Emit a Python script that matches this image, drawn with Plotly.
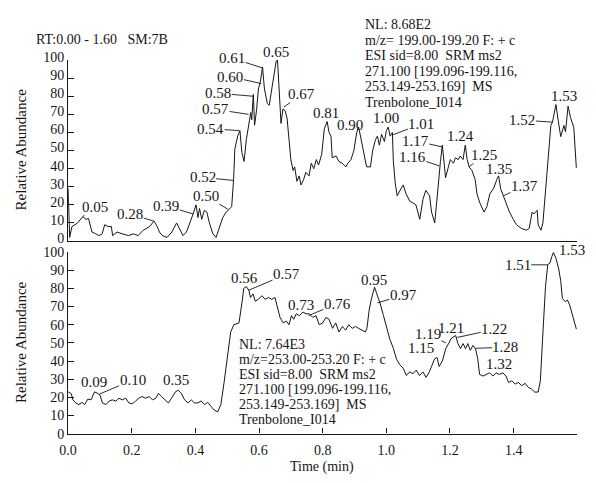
import numpy as np
import plotly.graph_objects as go

# ---------------- data ----------------
top_time = [0.000, 0.005, 0.012, 0.020, 0.030, 0.046, 0.056, 0.064, 0.075, 0.087, 0.097, 0.107, 0.115,
            0.126, 0.136, 0.140, 0.154, 0.170, 0.190, 0.205, 0.220, 0.236, 0.246, 0.256, 0.270, 0.280,
            0.287, 0.296, 0.311, 0.326, 0.341, 0.350, 0.361, 0.372, 0.383, 0.393, 0.402, 0.408, 0.413,
            0.420, 0.428, 0.436, 0.444, 0.455, 0.465, 0.476, 0.486, 0.497, 0.507, 0.514, 0.520, 0.524,
            0.533, 0.540, 0.546, 0.553, 0.560, 0.567, 0.574, 0.577, 0.582, 0.586, 0.592, 0.598, 0.604,
            0.611, 0.617, 0.626, 0.632, 0.640, 0.647, 0.654, 0.658, 0.664, 0.669, 0.675, 0.682, 0.688,
            0.694, 0.700, 0.707, 0.712, 0.719, 0.726, 0.732, 0.740, 0.747, 0.757, 0.764, 0.772, 0.780,
            0.787, 0.797, 0.805, 0.814, 0.820, 0.826, 0.830, 0.842, 0.851, 0.861, 0.873, 0.879, 0.889,
            0.898, 0.907, 0.913, 0.920, 0.929, 0.938, 0.950, 0.957, 0.966, 0.972, 0.978, 0.985, 0.994,
            1.000, 1.006, 1.012, 1.019, 1.022, 1.028, 1.034, 1.043, 1.053, 1.062, 1.074, 1.084, 1.093,
            1.105, 1.115, 1.124, 1.136, 1.142, 1.152, 1.158, 1.167, 1.170, 1.176, 1.182, 1.186, 1.195,
            1.201, 1.211, 1.217, 1.226, 1.232, 1.241, 1.248, 1.254, 1.260, 1.269, 1.279, 1.285, 1.294,
            1.307, 1.316, 1.325, 1.337, 1.347, 1.353, 1.359, 1.368, 1.378, 1.387, 1.399, 1.409, 1.424,
            1.440, 1.449, 1.458, 1.464, 1.474, 1.477, 1.486, 1.492, 1.502, 1.508, 1.517, 1.522, 1.533,
            1.540, 1.548, 1.558, 1.563, 1.571, 1.579, 1.589, 1.597]
top_abund = [29, 2, 8, 9, 10, 13.5, 12, 12.5, 5, 4, 3, 4, 9,
             8, 8, 3, 5, 4, 3, 4, 3, 6, 7, 8, 11, 8,
             5, 3, 2, 5, 10, 7, 3, 5, 10, 15, 20, 13, 18,
             12, 17, 16, 10, 4, 2, 8, 13, 16, 18, 19, 34, 51,
             58, 61, 49, 44, 56, 65, 71, 67, 81, 64, 72, 84, 88,
             96, 84, 76, 75, 84, 93, 99.5, 100, 79, 65, 73, 72, 68,
             57, 45, 39, 41, 33, 36, 31, 34, 38, 36, 43, 40, 45,
             42, 48, 62, 66, 60, 58, 46, 47, 44, 43, 41, 43, 45,
             50, 60, 63, 57, 50, 41, 41, 50, 56, 58, 53, 59, 55,
             61, 63, 58, 60, 44, 32, 25, 28, 31, 26, 22, 21, 20,
             12, 23, 28, 25, 16, 10, 21, 41, 44, 53, 43, 35, 41,
             45, 43, 46, 45, 47, 45, 53, 45, 41, 39, 34, 26, 21,
             16, 19, 26, 29, 34, 36, 29, 25, 21, 16, 12, 9, 7,
             6, 7, 16, 15, 17, 9, 6, 10, 32, 48, 64, 65.7, 75.4,
             66.6, 57.7, 63.9, 60.3, 74.5, 68.1, 62.8, 40.5]

bot_time = [0.000, 0.010, 0.015, 0.024, 0.034, 0.044, 0.052, 0.062, 0.072, 0.083, 0.093, 0.100, 0.108,
            0.119, 0.129, 0.139, 0.150, 0.160, 0.170, 0.181, 0.191, 0.201, 0.212, 0.222, 0.232, 0.243,
            0.255, 0.265, 0.276, 0.284, 0.294, 0.305, 0.315, 0.325, 0.337, 0.346, 0.356, 0.366, 0.377,
            0.387, 0.397, 0.408, 0.418, 0.428, 0.439, 0.449, 0.459, 0.470, 0.480, 0.490, 0.501, 0.511,
            0.521, 0.537, 0.547, 0.552, 0.560, 0.568, 0.573, 0.581, 0.588, 0.598, 0.609, 0.619, 0.629,
            0.640, 0.650, 0.657, 0.666, 0.676, 0.686, 0.694, 0.702, 0.709, 0.717, 0.727, 0.738, 0.748,
            0.758, 0.769, 0.779, 0.789, 0.800, 0.810, 0.820, 0.831, 0.841, 0.851, 0.862, 0.872, 0.882,
            0.893, 0.903, 0.913, 0.924, 0.934, 0.939, 0.946, 0.954, 0.963, 0.970, 0.980, 0.991, 1.001,
            1.011, 1.022, 1.032, 1.042, 1.053, 1.063, 1.073, 1.084, 1.094, 1.104, 1.115, 1.125, 1.135,
            1.142, 1.151, 1.159, 1.166, 1.176, 1.187, 1.197, 1.203, 1.210, 1.218, 1.225, 1.233, 1.241,
            1.249, 1.256, 1.264, 1.272, 1.280, 1.287, 1.293, 1.304, 1.314, 1.324, 1.335, 1.345, 1.355,
            1.366, 1.376, 1.384, 1.394, 1.405, 1.415, 1.425, 1.436, 1.446, 1.456, 1.466, 1.477, 1.484,
            1.491, 1.500, 1.507, 1.514, 1.520, 1.525, 1.533, 1.541, 1.548, 1.553, 1.562, 1.569, 1.576,
            1.584, 1.593, 1.597]
bot_abund = [23, 22, 18.6, 16.9, 16, 17.2, 16, 19, 18.6, 23, 22.2, 21.3, 16.9,
             16, 17.9, 18.6, 17.9, 19.5, 18.6, 19.5, 16.9, 16.4, 17.9, 19.5, 20.4, 19.5,
             20.4, 18.6, 19.5, 22.2, 20.4, 18.6, 16.9, 19.5, 23, 23.9, 22.2, 18.6, 16.9,
             18.6, 16.9, 16.9, 18, 16, 17.2, 15, 13, 12, 16, 28, 44, 56,
             60, 61, 73, 80, 81, 79, 75, 77, 73, 74, 76, 74, 75,
             74, 75, 70, 64, 61, 62, 60, 65, 63, 66, 65, 67, 66,
             66, 64, 65, 60, 61, 64, 63, 58, 61, 56, 59, 57, 60,
             58, 59, 58, 57, 56, 58, 68, 75, 80.7, 77, 72, 65, 58,
             52, 47, 41, 38, 36, 32, 34, 33, 35, 32, 34, 31, 34,
             37, 41, 42, 37, 40, 47, 50, 52.3, 53.2, 54, 49.6, 46.8, 49.6,
             46.8, 49.6, 45.9, 48.6, 46.8, 41.5, 32.6, 31.7, 32.6, 33.5, 31.7, 33.5, 32.6,
             33.5, 31.7, 28.2, 29.1, 27.3, 28.2, 26.4, 27.7, 25.5, 24.6, 22.9, 22.9, 29.1,
             52.3, 80.7, 93.1, 94, 97.5, 99.8, 96.6, 91.3, 84.2, 74.5, 72.7, 73.6, 70.9,
             65.6, 59.4, 57.6]

# peak labels: retention time text, and the point of the trace the label refers to
top_lbl_text = ["0.05", "0.28", "0.39", "0.50", "0.52", "0.54", "0.57", "0.58", "0.60", "0.61",
                "0.65", "0.67", "0.81", "0.90", "1.00", "1.01", "1.17", "1.16", "1.24", "1.25",
                "1.35", "1.37", "1.52", "1.53"]
top_lbl_t = [0.046, 0.270, 0.393, 0.502, 0.520, 0.539, 0.567, 0.582, 0.607, 0.613,
             0.658, 0.678, 0.814, 0.907, 1.006, 1.019, 1.176, 1.167, 1.248, 1.260,
             1.353, 1.368, 1.522, 1.533]
top_lbl_v = [13.5, 11, 15, 17.6, 33.5, 61, 70, 80, 87, 95.5,
             100, 74, 66, 61, 63, 58.6, 52, 41.5, 53, 41,
             36, 25, 65.7, 75.4]

bot_lbl_text = ["0.09", "0.10", "0.35", "0.56", "0.57", "0.73", "0.76", "0.95", "0.97", "1.15",
                "1.19", "1.21", "1.22", "1.28", "1.32", "1.51", "1.53"]
bot_lbl_t = [0.083, 0.099, 0.346, 0.556, 0.567, 0.738, 0.755, 0.954, 0.972, 1.146,
             1.187, 1.210, 1.223, 1.280, 1.322, 1.507, 1.525]
bot_lbl_v = [23, 21.8, 23.9, 80.5, 79, 67, 65, 80.7, 72, 44,
             50, 54, 53, 47, 34, 93, 99.8]

top_info = ["NL: 8.68E2", "m/z= 199.00-199.20 F: + c", "ESI sid=8.00  SRM ms2",
            "271.100 [199.096-199.116,", "253.149-253.169]  MS", "Trenbolone_I014"]
bot_info = ["NL: 7.64E3", "m/z=253.00-253.20 F: + c", "ESI sid=8.00  SRM ms2",
            "271.100 [199.096-199.116,", "253.149-253.169]  MS", "Trenbolone_I014"]
header = "RT:0.00 - 1.60   SM:7B"
y_title = "Relative Abundance"
x_title = "Time (min)"
x_ticks = [0.0, 0.2, 0.4, 0.6, 0.8, 1.0, 1.2, 1.4]
y_ticks = list(range(0, 101, 10))

# ---------------- layout / style ----------------
W, H = 596, 483
FONT = "Liberation Serif, Times New Roman, serif"
INK = "#161616"
X0, X1 = 60 / W, 577 / W
TOP_DOM = [1 - 240 / H, 1 - 52 / H]
BOT_DOM = [1 - 440 / H, 1 - 251.5 / H]

# label offsets (pixels) ; arrow flag
top_off = [(12, -10, 1), (-24, -7, 1), (-27, -8, 1), (-22, -13, 1), (-31, -3, 1), (-29, -2, 1),
           (-33, -5, 1), (-35, -3, 1), (-31, -7, 1), (-31, -10, 1), (-2, -8, 0), (18, -13, 1),
           (-1, -9, 0), (-7, -6, 0), (-2, -9, 0), (29, -11, 1), (-27, -6, 1), (-27, -9, 1),
           (-5, -9, 0), (15, -12, 1), (0, -7, 0), (21, -10, 1), (-30, -2, 1), (8, -9, 0)]
bot_off = [(-1, -10, 0), (33, -14, 1), (-2, -10, 0), (-1, -10, 0), (38, -16, 1), (-2, -7, 0),
           (29, -12, 1), (2, -7, 0), (26, -8, 1), (-12, -6, 0), (-18, -9, 1), (-2, -8, 0),
           (37, -8, 1), (30, -1, 1), (10, -8, 0), (-30, 0, 1), (19, -2, 0)]

fig = go.Figure()
fig.add_trace(go.Scatter(x=top_time, y=top_abund, mode="lines", xaxis="x", yaxis="y",
                         line=dict(color=INK, width=1), showlegend=False, hoverinfo="skip"))
fig.add_trace(go.Scatter(x=bot_time, y=bot_abund, mode="lines", xaxis="x2", yaxis="y2",
                         line=dict(color=INK, width=1), showlegend=False, hoverinfo="skip"))

ann = []


def add_labels(texts, ts, vs, offs, xr, yr):
    for txt, t, v, (dx, dy, arrow) in zip(texts, ts, vs, offs):
        if arrow:
            ann.append(dict(x=t, y=v, xref=xr, yref=yr, text=txt, showarrow=True,
                            ax=dx, ay=dy, arrowhead=0, arrowwidth=0.9, arrowcolor=INK,
                            standoff=0, borderpad=0,
                            font=dict(family=FONT, size=15, color=INK)))
        else:
            ann.append(dict(x=t, y=v, xref=xr, yref=yr, text=txt, showarrow=False,
                            xshift=dx, yshift=-dy, xanchor="center", yanchor="middle",
                            font=dict(family=FONT, size=15, color=INK)))


add_labels(top_lbl_text, top_lbl_t, top_lbl_v, top_off, "x", "y")
add_labels(bot_lbl_text, bot_lbl_t, bot_lbl_v, bot_off, "x2", "y2")

for i, line in enumerate(top_info):
    ann.append(dict(x=359 / W, y=1 - (15 + 16.2 * i) / H, xref="paper", yref="paper", text=line,
                    showarrow=False, xanchor="left", yanchor="middle",
                    font=dict(family=FONT, size=14, color=INK)))
for i, line in enumerate(bot_info):
    ann.append(dict(x=231 / W, y=1 - (347 + 15.6 * i) / H, xref="paper", yref="paper", text=line,
                    showarrow=False, xanchor="left", yanchor="middle",
                    font=dict(family=FONT, size=14, color=INK)))

ann.append(dict(x=25 / W, y=1 - 31 / H, xref="paper", yref="paper", text=header,
                showarrow=False, xanchor="left", yanchor="middle",
                font=dict(family=FONT, size=14, color=INK)))
for yc in (145, 345):
    ann.append(dict(x=12 / W, y=1 - yc / H, xref="paper", yref="paper", text=y_title,
                    showarrow=False, textangle=-90, xanchor="center", yanchor="middle",
                    font=dict(family=FONT, size=15, color=INK)))
ann.append(dict(x=318 / W, y=1 - 475 / H, xref="paper", yref="paper", text=x_title,
                showarrow=False, xanchor="center", yanchor="middle",
                font=dict(family=FONT, size=14, color=INK)))

axis_common = dict(showgrid=False, zeroline=False, linecolor=INK, linewidth=1.3,
                   tickcolor=INK, tickfont=dict(family=FONT, size=14, color=INK))

fig.update_layout(
    width=W, height=H, margin=dict(l=0, r=0, t=0, b=0),
    paper_bgcolor="white", plot_bgcolor="white",
    font=dict(family=FONT, color=INK),
    xaxis=dict(domain=[X0, X1], range=[0, 1.6], anchor="y", showline=True, showticklabels=False,
               ticks="", **axis_common),
    yaxis=dict(domain=TOP_DOM, range=[0, 100], anchor="x", showline=True, tickvals=y_ticks,
               ticks="inside", ticklen=6, ticklabelshift=-3, **axis_common),
    xaxis2=dict(domain=[X0, X1], range=[0, 1.6], anchor="y2", showline=True, tickvals=x_ticks,
                ticktext=[f"{v:.1f}" for v in x_ticks], ticks="inside", ticklen=5,
                ticklabelstandoff=3, **axis_common),
    yaxis2=dict(domain=BOT_DOM, range=[0, 100], anchor="x2", showline=True, tickvals=y_ticks,
                ticks="inside", ticklen=6, **axis_common),
    annotations=ann,
)

fig.write_html("out.html")
